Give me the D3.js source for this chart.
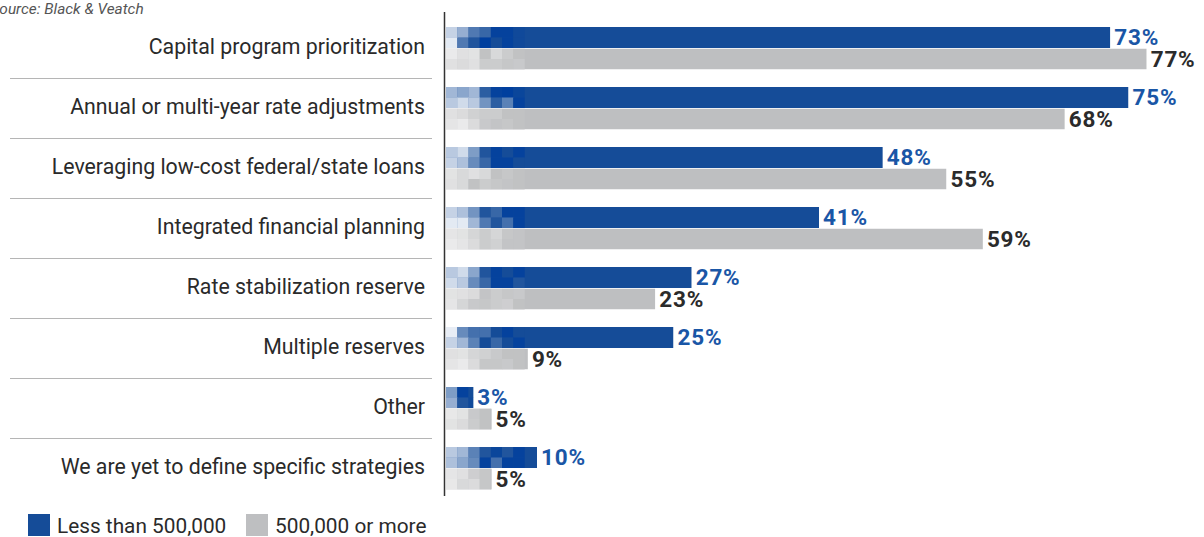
<!DOCTYPE html>
<html>
<head>
<meta charset="utf-8">
<script src="https://cdn.jsdelivr.net/npm/d3@7/dist/d3.min.js"></script>
<style>
  html, body { margin: 0; padding: 0; background: #fff; }
  svg { display: block; }
</style>
</head>
<body>
<svg id="chart" width="1204" height="537"></svg>
<script>
// Financing strategies by utility size
const categories = [
  "Capital program prioritization",
  "Annual or multi-year rate adjustments",
  "Leveraging low-cost federal/state loans",
  "Integrated financial planning",
  "Rate stabilization reserve",
  "Multiple reserves",
  "Other",
  "We are yet to define specific strategies"
];
const seriesNames = ["Less than 500,000", "500,000 or more"];
const smallUtilities = [73, 75, 48, 41, 27, 25, 3, 10];
const largeUtilities = [77, 68, 55, 59, 23, 9, 5, 5];
const sourceNote = "Source: Black & Veatch";

// Decorative pixel tint patterns for the leading cells of each bar
// (two rows of seven cells; 1 = full bar colour, >1 = deeper tone)
const bluePatterns = [
  [[0.25, 0.45, 0.75, 0.85, 1.15, 1.15, 1.05], [0.12, 0.75, 0.95, 1.2, 1.0, 1.15, 1.05]],
  [[0.4, 0.5, 0.4, 0.9, 1.15, 1.2, 1.1], [0.3, 0.2, 0.3, 0.6, 0.9, 0.7, 1.15]],
  [[0.3, 0.2, 0.55, 0.95, 1.15, 1.0, 1.15], [0.25, 0.35, 0.65, 0.85, 1.15, 1.15, 1.0]],
  [[0.25, 0.35, 0.6, 0.95, 0.85, 1.15, 1.15], [0.12, 0.12, 0.4, 0.75, 0.95, 0.8, 1.15]],
  [[0.3, 0.2, 0.5, 0.95, 1.15, 1.0, 1.15], [0.2, 0.3, 0.65, 0.85, 1.15, 1.15, 0.95]],
  [[0.1, 0.65, 0.8, 0.8, 1.0, 1.15, 1.0], [0.25, 0.4, 0.7, 1.0, 0.85, 1.0, 1.15]],
  [[0.55, 1.15, 1.0, 1.0, 1.0, 1.0, 1.0], [0.45, 0.95, 1.05, 1.0, 1.0, 1.0, 1.0]],
  [[0.3, 0.4, 0.7, 0.95, 1.1, 0.95, 1.15], [0.35, 0.5, 0.65, 1.15, 0.8, 1.15, 1.15]]
];
const grayPatterns = [
  [[0.15, 0.35, 0.3, 0.95, 0.5, 0.75, 0.95], [0.35, 0.45, 0.35, 0.75, 0.75, 0.85, 0.8]],
  [[0.35, 0.45, 0.65, 0.75, 0.75, 0.95, 0.95], [0.25, 0.15, 0.45, 0.8, 0.9, 0.85, 0.95]],
  [[0.3, 0.5, 0.35, 0.5, 0.95, 0.85, 0.95], [0.35, 0.5, 0.95, 0.75, 0.85, 0.9, 0.95]],
  [[0.25, 0.3, 0.55, 0.75, 0.55, 0.85, 0.9], [0.15, 0.25, 0.45, 0.75, 0.65, 0.9, 0.9]],
  [[0.3, 0.35, 0.45, 0.9, 0.75, 0.85, 0.8], [0.25, 0.55, 0.8, 0.85, 0.75, 0.7, 0.95]],
  [[0.35, 0.3, 0.55, 0.65, 0.8, 0.95, 0.95], [0.25, 0.15, 0.45, 0.85, 0.85, 0.8, 0.95]],
  [[0.2, 0.3, 0.8, 0.95, 1.0, 1.0, 1.0], [0.3, 0.45, 0.75, 0.95, 1.0, 1.0, 1.0]],
  [[0.25, 0.35, 0.7, 0.85, 1.0, 1.0, 1.0], [0.2, 0.5, 0.45, 0.85, 1.0, 1.0, 1.0]]
];

const colors = { blue: "#154c98", blueDeep: "#003f9e", gray: "#bebfc1", grayLight: "#f2f2f2" };
const labelColors = ["#1a56a6", "#2b2b2b"];
const fontFamily = "Roboto, 'Noto Sans', sans-serif";

const margin = { left: 446, top: 17 };

const svg = d3.select("#chart");

const x = d3.scaleLinear()
  .domain([0, 100])
  .range([margin.left, margin.left + 910]);

const y = d3.scaleBand()
  .domain(categories)
  .range([margin.top, margin.top + 60 * categories.length])
  .paddingInner(0).paddingOuter(0);

const barH = 21;
const offsets = [10, 31.5];

function tint(series, t) {
  if (series === 0) {
    if (t <= 1) return d3.interpolateRgb("#ffffff", colors.blue)(t);
    return d3.interpolateRgb(colors.blue, colors.blueDeep)((t - 1) / 0.2);
  }
  return d3.interpolateRgb(colors.grayLight, colors.gray)(Math.min(t, 1));
}

const rows = categories.map((c, i) => ({
  category: c,
  values: [smallUtilities[i], largeUtilities[i]],
  patterns: [bluePatterns[i], grayPatterns[i]]
}));

const defs = svg.append("defs");

// Row separators on the label side
svg.append("g")
  .selectAll("line")
  .data(categories.slice(1))
  .join("line")
  .attr("x1", 10).attr("x2", 432)
  .attr("y1", d => y(d) + 1.5).attr("y2", d => y(d) + 1.5)
  .attr("stroke", "#b5b5b5").attr("stroke-width", 1);

// Category labels
svg.append("g")
  .selectAll("text")
  .data(categories)
  .join("text")
  .attr("x", 425)
  .attr("y", d => y(d) + 36.5)
  .attr("text-anchor", "end")
  .attr("font-family", fontFamily)
  .attr("font-size", 21.3)
  .attr("fill", "#2a2a2a")
  .text(d => d);

// Bars
const cellW = 11.2;
const barsG = svg.append("g");
rows.forEach((r, i) => {
  r.values.forEach((v, s) => {
    const y0 = y(r.category) + offsets[s];
    const x0 = x(0);
    const x1 = x(v);
    const clipId = `clip-${i}-${s}`;
    defs.append("clipPath").attr("id", clipId)
      .append("rect").attr("x", x0).attr("y", y0).attr("width", x1 - x0).attr("height", barH);
    const g = barsG.append("g").attr("clip-path", `url(#${clipId})`);
    g.append("rect")
      .attr("x", x0).attr("y", y0)
      .attr("width", x1 - x0).attr("height", barH)
      .attr("fill", s === 0 ? colors.blue : colors.gray);
    r.patterns[s].forEach((rowTints, ri) => {
      g.selectAll(null)
        .data(rowTints)
        .join("rect")
        .attr("x", (t, ci) => x0 + ci * cellW)
        .attr("y", y0 + ri * barH / 2)
        .attr("width", cellW + 0.3)
        .attr("height", barH / 2 + 0.3)
        .attr("fill", t => tint(s, t));
    });
    barsG.append("text")
      .attr("x", x1 + 4)
      .attr("y", y0 + barH / 2 + 7.5)
      .attr("font-family", fontFamily)
      .attr("font-weight", 700)
      .attr("font-size", 22.5)
      .attr("letter-spacing", 0.8)
      .attr("fill", labelColors[s])
      .text(v + "%");
  });
});

// Vertical baseline
svg.append("line")
  .attr("x1", x(0) - 1.5).attr("x2", x(0) - 1.5)
  .attr("y1", 12).attr("y2", 496)
  .attr("stroke", "#333").attr("stroke-width", 1.5);

// Source note (runs off the left edge)
svg.append("text")
  .attr("x", -9.5).attr("y", 14)
  .attr("font-family", fontFamily)
  .attr("font-style", "italic")
  .attr("font-size", 15.4)
  .attr("fill", "#555")
  .text(sourceNote);

// Legend
const legend = svg.append("g");
const legendX = [28, 246];
seriesNames.forEach((name, s) => {
  legend.append("rect")
    .attr("x", legendX[s]).attr("y", 514)
    .attr("width", 22).attr("height", 22)
    .attr("fill", s === 0 ? colors.blue : colors.gray);
  legend.append("text")
    .attr("x", legendX[s] + 29).attr("y", 533)
    .attr("font-family", fontFamily)
    .attr("font-size", 20.8)
    .attr("fill", "#2a2a2a")
    .text(name);
});
</script>
</body>
</html>
